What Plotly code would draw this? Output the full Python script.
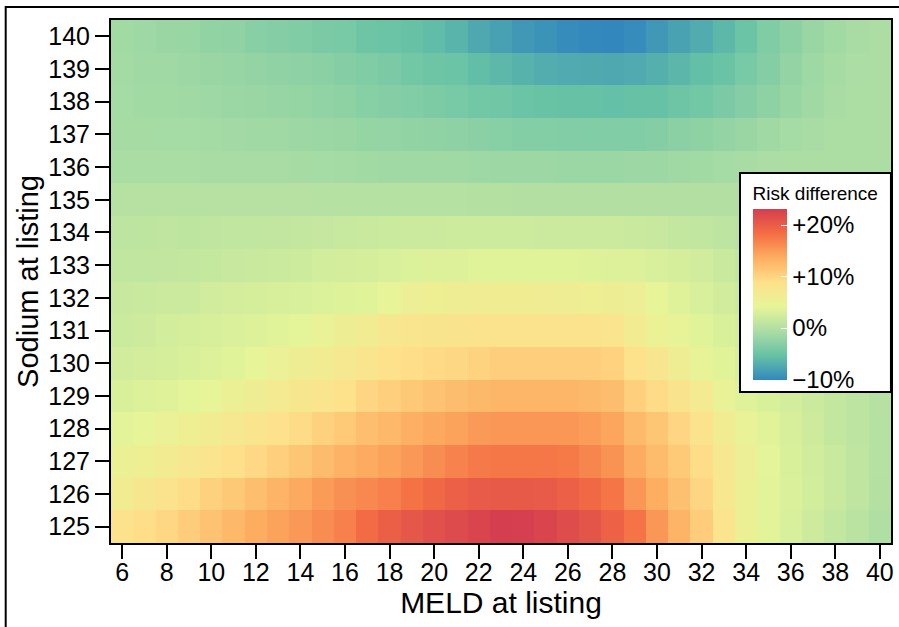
import plotly.graph_objects as go

# ---- data ----
meld = list(range(6, 41))
sodium = list(range(125, 141))
x_ticks = list(range(6, 41, 2))
cb_tickvals = [-10, 0, 10, 20]
cb_ticktext = ["\u221210%", "0%", "+10%", "+20%"]

rd_140 = [-1.2,-1.5,-1.8,-1.9,-2.3,-2.5,-3.0,-3.2,-3.6,-3.9, -4.1,-4.9,-5.0,-5.4,-5.8,-6.5,-7.5,-8.1,-8.8,-9.2, -9.7,-10.0,-10.1,-9.7,-8.8,-8.0,-7.2,-6.2,-5.0,-3.6, -2.8,-1.8,-1.2,-0.8,-0.5]
rd_139 = [-1.1,-1.3,-1.4,-1.6,-1.8,-2.0,-2.2,-2.5,-2.7,-2.9, -3.2,-3.6,-3.9,-4.5,-4.8,-5.0,-5.7,-6.2,-6.7,-7.1, -7.3,-7.4,-7.5,-7.3,-6.9,-6.3,-5.6,-5.1,-4.1,-3.2, -2.2,-1.5,-0.9,-0.6,-0.5]
rd_138 = [-1.05,-1.2,-1.2,-1.3,-1.5,-1.7,-1.8,-1.95,-2.1,-2.4, -2.6,-3.1,-3.2,-3.5,-3.8,-4.1,-4.5,-4.7,-5.0,-5.2, -5.3,-5.4,-5.5,-5.4,-5.3,-4.9,-4.5,-3.9,-3.2,-2.6, -1.9,-1.3,-0.8,-0.5,-0.5]
rd_137 = [-0.9,-0.9,-1.0,-1.05,-1.1,-1.25,-1.35,-1.4,-1.55,-1.7, -1.8,-2.1,-2.15,-2.3,-2.5,-2.7,-2.9,-3.1,-3.3,-3.3, -3.4,-3.5,-3.5,-3.5,-3.2,-2.9,-2.6,-2.2,-1.8,-1.4, -1.05,-0.8,-0.5,-0.5,-0.5]
rd_136 = [-0.65,-0.7,-0.7,-0.7,-0.8,-0.8,-0.85,-0.85,-0.9,-1.0, -1.1,-1.2,-1.3,-1.3,-1.35,-1.4,-1.5,-1.55,-1.55,-1.65, -1.7,-1.7,-1.7,-1.6,-1.6,-1.4,-1.2,-1.0,-0.8,-0.6, -0.5,-0.5,-0.5,-0.5,-0.5]
rd_135 = [0.25,0.25,0.25,0.25,0.25,0.25,0.25,0.25,0.25,0.2, 0.2,0.2,0.2,0.2,0.2,0.15,0.1,0.1,0.05,0.0, 0.0,0.0,0.0,0.05,0.05,0.05,0.05,0.05,0.0,-0.1, -0.2,-0.3,-0.3,-0.3,-0.3]
rd_134 = [0.85,0.9,1.0,0.95,1.05,1.1,1.15,1.25,1.35,1.45, 1.55,1.7,1.9,2.0,2.05,2.1,2.1,2.1,2.1,2.05, 2.0,2.0,1.95,1.75,1.6,1.35,1.1,0.85,0.6,0.4, 0.2,0.1,0.0,-0.1,-0.1]
rd_133 = [1.1,1.1,1.25,1.35,1.5,1.65,1.75,1.9,2.15,2.5, 2.6,2.8,3.0,3.25,3.3,3.35,3.65,3.75,3.75,3.75, 3.65,3.45,3.4,3.35,3.0,2.8,2.4,1.8,1.3,0.9, 0.6,0.4,0.2,0.1,0.0]
rd_132 = [1.6,1.75,2.0,2.05,2.4,2.6,2.7,2.95,3.0,3.25, 3.5,3.65,4.3,5.4,5.8,6.0,6.1,6.2,6.2,6.1, 6.0,5.8,5.6,5.4,4.3,3.6,3.0,2.4,1.9,1.5, 1.1,0.8,0.5,0.3,0.2]
rd_131 = [1.9,2.2,2.5,2.7,2.9,3.2,3.4,3.7,4.0,4.8, 5.6,6.4,7.2,7.7,7.9,8.1,8.3,8.3,8.3,8.3, 8.3,8.3,8.0,6.5,5.1,4.6,3.7,3.1,2.6,2.0, 1.5,1.1,0.8,0.5,0.3]
rd_130 = [2.4,2.6,2.8,3.1,3.3,3.7,4.3,5.0,5.9,6.4, 7.1,7.7,8.7,9.1,9.4,9.7,10.1,10.6,10.6,10.6, 10.6,10.6,10.2,8.7,7.5,6.0,4.6,3.7,3.1,2.5, 1.9,1.4,1.0,0.6,0.3]
rd_129 = [3.1,3.3,3.6,3.9,4.4,5.2,5.9,6.6,7.3,8.0, 8.7,9.8,10.4,11.1,11.7,12.2,12.6,12.9,12.9,12.9, 12.9,12.6,12.2,10.4,9.3,8.1,6.6,4.8,3.6,3.1, 2.5,2.0,1.35,0.8,0.25]
rd_128 = [3.8,4.4,5.0,5.8,6.4,7.1,7.8,8.6,9.3,10.3, 11.0,12.0,12.7,13.4,14.0,14.5,15.1,15.3,15.3,15.3, 15.3,14.9,14.3,12.5,11.3,9.8,8.3,6.4,4.8,3.7, 2.9,2.2,1.4,0.8,0.2]
rd_127 = [5.2,5.8,6.5,7.2,8.0,8.8,9.6,10.4,11.3,12.3, 13.2,13.8,14.5,15.2,16.0,16.8,17.4,17.7,17.7,17.7, 17.5,16.6,15.6,13.8,12.4,11.0,9.2,7.2,5.4,3.9, 3.1,2.4,1.7,1.0,0.2]
rd_126 = [6.4,7.3,8.2,9.2,10.3,11.1,12.1,13.0,13.9,15.0, 15.8,16.4,17.0,18.0,18.9,19.7,20.2,20.3,20.3,20.2, 19.7,18.9,17.8,15.3,13.6,11.9,9.8,7.4,5.2,3.8, 3.2,2.5,1.8,1.0,0.1]
rd_125 = [8.4,9.1,9.7,10.7,11.7,12.7,13.7,14.5,15.2,16.1, 17.0,18.6,19.8,20.6,21.3,21.8,22.5,23.1,23.0,22.4, 21.7,20.8,19.5,17.9,15.4,13.0,10.7,8.0,5.3,3.8, 3.0,2.2,1.4,0.6,-0.2]

z = [rd_125, rd_126, rd_127, rd_128, rd_129, rd_130, rd_131, rd_132,
     rd_133, rd_134, rd_135, rd_136, rd_137, rd_138, rd_139, rd_140]

# ---- style ----
FONT = "Liberation Sans, Arial, Helvetica, sans-serif"
spectral = [[0, "#3288bd"], [1/7, "#66c2a5"], [2/7, "#abdda4"], [3/7, "#e6f598"],
            [4/7, "#fee08b"], [5/7, "#fdae61"], [6/7, "#f46d43"], [1, "#d53e4f"]]

fig = go.Figure(go.Heatmap(
    x=meld, y=sodium, z=z,
    colorscale=spectral, zmin=-10.1, zmax=23.1,
    colorbar=dict(
        title=dict(text="Risk difference", side="top",
                   font=dict(family=FONT, size=19, color="black")),
        tickvals=cb_tickvals, ticktext=cb_ticktext,
        tickfont=dict(family=FONT, size=24, color="black"),
        ticks="inside", ticklen=6, tickcolor="white", tickwidth=1,
        thickness=34, thicknessmode="pixels",
        lenmode="pixels", len=217,
        x=0.8072, xanchor="left", y=0.7073, yanchor="top",
        xpad=12, ypad=10,
        outlinewidth=0, bgcolor="white", bordercolor="black", borderwidth=2,
    ),
))

fig.update_layout(
    width=899, height=627,
    margin=dict(l=111, r=5, t=20, b=84),
    paper_bgcolor="white", plot_bgcolor="white",
    font=dict(family=FONT, color="black"),
    xaxis=dict(range=[5.5, 40.5], tickvals=x_ticks, ticks="outside", ticklen=14,
               tickwidth=2, tickcolor="black", linecolor="black", linewidth=2,
               mirror=True, showgrid=False, zeroline=False, ticklabelstandoff=-8,
               tickfont=dict(family=FONT, size=25, color="black"),
               title=dict(text="MELD at listing", font=dict(family=FONT, size=30, color="black"),
                          standoff=2)),
    yaxis=dict(range=[124.5, 140.5], tickvals=sodium, ticks="outside", ticklen=14,
               tickwidth=2, tickcolor="black", linecolor="black", linewidth=2,
               mirror=True, showgrid=False, zeroline=False,
               tickfont=dict(family=FONT, size=25, color="black"),
               title=dict(text="Sodium at listing", font=dict(family=FONT, size=29, color="black"),
                          standoff=1)),
    shapes=[dict(type="rect", xref="paper", yref="paper",
                 x0=-0.135, x1=1.02, y0=-0.2, y1=1.0249,
                 line=dict(color="black", width=2), fillcolor="rgba(0,0,0,0)",
                 layer="above")],
)

fig.write_html("out.html", config={"displayModeBar": False},
               post_script="document.body.style.margin='0';document.body.style.padding='0';")
